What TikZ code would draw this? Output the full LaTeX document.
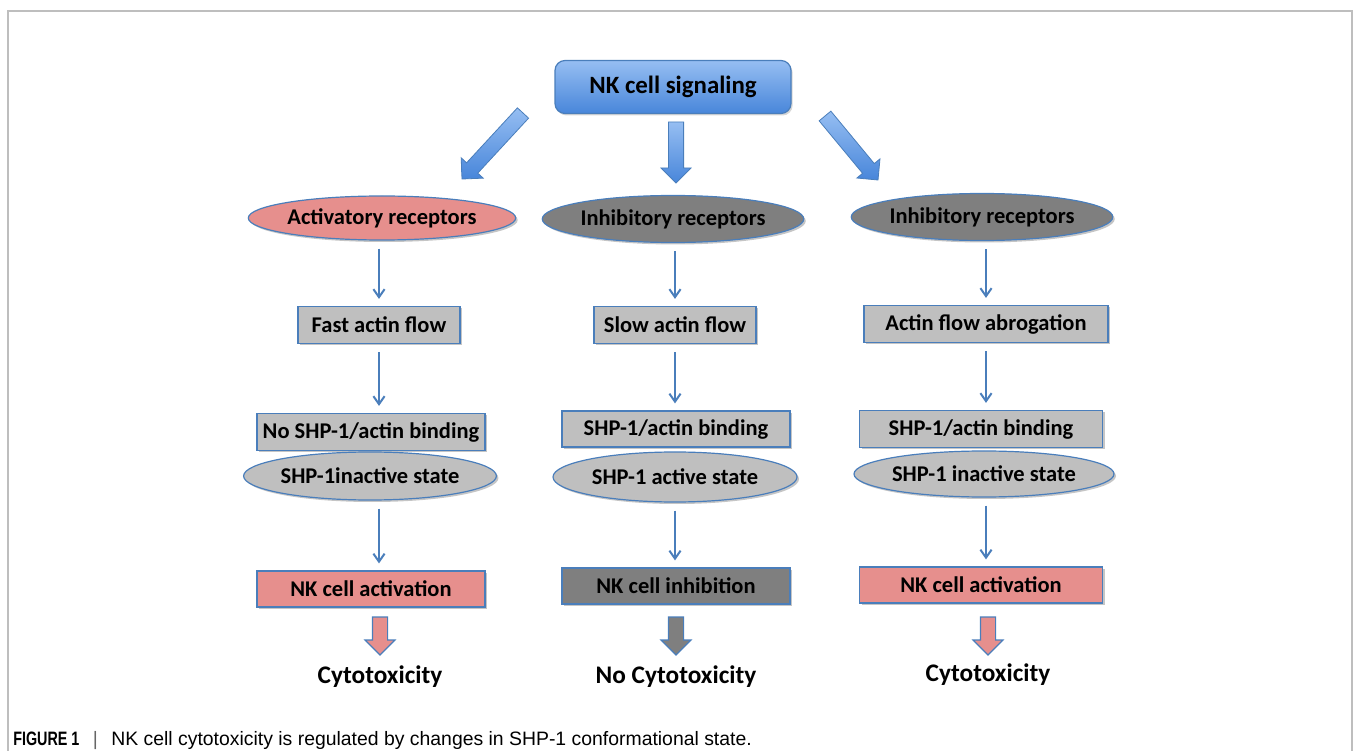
\documentclass[tikz,border=0pt]{standalone}
\usepackage{fontspec}
\setmainfont{Carlito}
\newfontfamily\capfont{Liberation Sans}
\newfontfamily\capboldfont[FakeStretch=0.74]{Liberation Sans}
\usetikzlibrary{shapes.geometric,arrows.meta,shadows,calc}
\definecolor{edgeblue}{RGB}{74,126,187}
\definecolor{skytop}{RGB}{150,190,242}
\definecolor{skybot}{RGB}{72,134,218}
\definecolor{salmon}{RGB}{230,143,141}
\definecolor{boxgray}{RGB}{191,191,191}
\definecolor{darkgray}{RGB}{127,127,127}
\definecolor{framegray}{RGB}{190,190,190}
\newcommand{\fatarrow}[3]{%
  \coordinate (fa-h) at ($(#3)!3.75mm!(#2)$);
  \draw[#1] ($(#2)!1.9mm!90:(#3)$) -- ($(fa-h)!1.9mm!90:(#3)$) -- ($(fa-h)!3.75mm!90:(#3)$)
    -- (#3) -- ($(fa-h)!3.75mm!-90:(#3)$) -- ($(fa-h)!1.9mm!-90:(#3)$) -- ($(#2)!1.9mm!-90:(#3)$) -- cycle;}

\begin{document}
\begin{tikzpicture}[x=0.25mm,y=-0.25mm,
    lbl/.style={font=\fontsize{16}{19}\selectfont\bfseries},
    box/.style={lbl, draw=edgeblue, line width=0.3mm, fill=boxgray, minimum height=9.25mm, inner sep=0pt,
      drop shadow={shadow xshift=0.5mm, shadow yshift=-0.5mm, fill=black!45, opacity=0.5}},
    oval/.style={box, ellipse},
    thin/.style={draw=edgeblue, line width=0.5mm, -{Straight Barb[length=2mm,width=2.8mm]}, shorten <=2mm, shorten >=1.75mm},
    bigblue/.style={draw=edgeblue, line width=0.2mm, top color=skytop, bottom color=skybot},
    bigpink/.style={draw=edgeblue, line width=0.3mm, fill=salmon},
    biggray/.style={draw=edgeblue, line width=0.3mm, fill=darkgray},
    outcome/.style={font=\fontsize{18}{22}\selectfont\bfseries}]
  \useasboundingbox (0,0) rectangle (1355,751);
  \draw[framegray, line width=0.5mm] (8,751) -- (8,11) -- (1352,11) -- (1352,751);

  \node[draw=edgeblue, line width=0.3mm, rounded corners=2.5mm, top color=skytop, bottom color=skybot,
    minimum width=59mm, minimum height=13.25mm, font=\fontsize{17.7}{21}\selectfont\bfseries,
    drop shadow={shadow xshift=0.4mm, shadow yshift=-0.5mm, fill=black!40, opacity=0.4}] (sig) at (673,87) {NK cell signaling};

  \node[oval, fill=salmon, minimum width=60.25mm, minimum height=11mm] (act) at (382,218) {Activatory receptors};
  \node[box, minimum width=40.5mm] (fast) at (379,325) {Fast actin flow};
  \node[box, minimum width=57mm] (nobind) at (371,432) {No SHP-1/actin binding};
  \node[oval, minimum width=60.75mm, minimum height=12mm] (inact) at (370,476) {SHP-1inactive state};
  \node[box, fill=salmon, minimum width=57mm, minimum height=9mm] (nkact) at (371,589) {NK cell activation};
  \node[outcome] (cyto) at (380,677) {Cytotoxicity};

  \node[oval, fill=darkgray, minimum width=61.25mm, minimum height=11.75mm] (inh) at (673,219) {Inhibitory receptors};
  \node[box, minimum width=40.5mm] (slow) at (675,325) {Slow actin flow};
  \node[box, minimum width=57mm, minimum height=9mm] (bind) at (676,429) {SHP-1/actin binding};
  \node[oval, minimum width=61mm, minimum height=12.5mm] (active) at (675,477) {SHP-1 active state};
  \node[box, fill=darkgray, minimum width=57mm, minimum height=9mm] (nkinh) at (676,586) {NK cell inhibition};
  \node[outcome] (nocyto) at (676,677) {No Cytotoxicity};

  \node[oval, fill=darkgray, minimum width=60.75mm, minimum height=11.75mm] (inhb) at (982,217) {Inhibitory receptors};
  \node[box, minimum width=61mm] (abrog) at (986,324) {Actin flow abrogation};
  \node[box, minimum width=60.75mm] (bindb) at (981,429) {SHP-1/actin binding};
  \node[oval, minimum width=60.75mm, minimum height=11.5mm] (inactb) at (984,474) {SHP-1 inactive state};
  \node[box, fill=salmon, minimum width=60.75mm, minimum height=9mm] (nkactb) at (981,585) {NK cell activation};
  \node[outcome] (cytob) at (988,675) {Cytotoxicity};

  \coordinate (sigL) at (523,113);
  \coordinate (tipL) at (462,179);
  \coordinate (sigM) at (676,122);
  \coordinate (tipM) at (676,183);
  \coordinate (sigR) at (825,116);
  \coordinate (tipR) at (878,180);
  \fatarrow{bigblue}{sigL}{tipL}
  \fatarrow{bigblue}{sigM}{tipM}
  \fatarrow{bigblue}{sigR}{tipR}

  \draw[thin] (fast.north |- act.south) -- (fast.north);
  \draw[thin] (fast.south) -- (fast.south |- nobind.north);
  \draw[thin] (fast.south |- inact.south) -- (fast.south |- nkact.north);
  \draw[thin] (slow.north |- inh.south) -- (slow.north);
  \draw[thin] (slow.south) -- (slow.south |- bind.north);
  \draw[thin] (slow.south |- active.south) -- (slow.south |- nkinh.north);
  \draw[thin] (abrog.north |- inhb.south) -- (abrog.north);
  \draw[thin] (abrog.south) -- (abrog.south |- bindb.north);
  \draw[thin] (abrog.south |- inactb.south) -- (abrog.south |- nkactb.north);

  \coordinate (outL) at (380,617);
  \coordinate (endL) at (380,655);
  \coordinate (outM) at (676,617);
  \coordinate (endM) at (676,655);
  \coordinate (outR) at (988,617);
  \coordinate (endR) at (988,655);
  \fatarrow{bigpink}{outL}{endL}
  \fatarrow{biggray}{outM}{endM}
  \fatarrow{bigpink}{outR}{endR}

  \node[anchor=base west, font=\capfont\fontsize{13.8}{16}\selectfont, inner sep=0pt] (cap) at (13,745)
    {{\capboldfont\bfseries FIGURE 1}\hspace{2mm} {\color{black!60}|}\hspace{2mm} NK cell cytotoxicity is regulated by changes in SHP-1 conformational state.};
\end{tikzpicture}
\end{document}
